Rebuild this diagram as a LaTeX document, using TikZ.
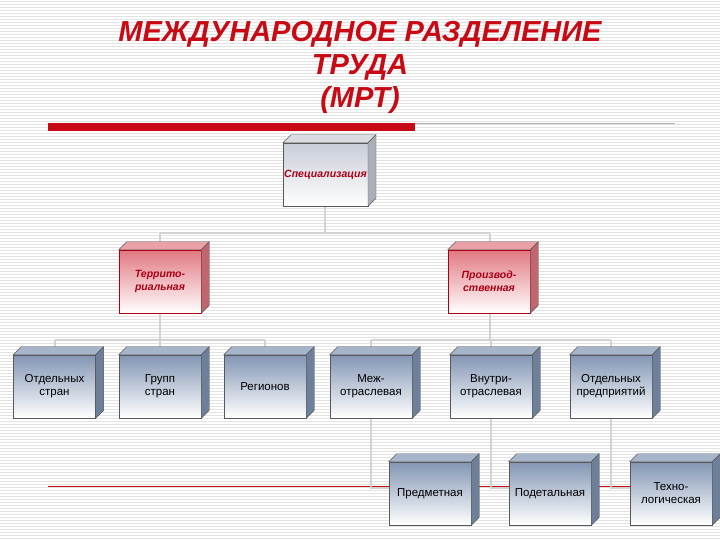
\documentclass[tikz,border=0pt]{standalone}
\usepackage{fontspec}
\setmainfont{Liberation Sans}
\usetikzlibrary{calc}
\definecolor{tred}{RGB}{200,10,20}
\definecolor{dred}{RGB}{170,0,20}
\definecolor{steel}{RGB}{130,150,180}
\definecolor{pale}{RGB}{200,205,215}
\definecolor{pinkr}{RGB}{225,120,130}
\tikzset{
  bx/.style={draw=gray!70!black, line width=0.5pt, minimum width=82pt, minimum height=63pt, inner sep=1pt, align=center, font=\fontsize{11.5}{13}\selectfont, top color=steel, bottom color=white},
  bxtop/.style={bx, top color=pale, bottom color=white, text=dred, font=\fontsize{10.5}{12}\selectfont\bfseries\itshape},
  bxred/.style={bx, draw=dred, top color=pinkr, bottom color=white, text=dred, font=\fontsize{10.5}{13}\selectfont\bfseries\itshape},
  conn/.style={draw=gray!35, line width=1.5pt},
}
\newcommand{\depthfaces}[2]{%
  \filldraw[draw=gray!70!black, line width=0.4pt, fill=#2!70!white] (#1.north west) -- ++(8,-8) -- ($(#1.north east)+(8,-8)$) -- (#1.north east) -- cycle;
  \filldraw[draw=gray!70!black, line width=0.4pt, fill=#2!85!black] (#1.north east) -- ++(8,-8) -- ($(#1.south east)+(8,-8)$) -- (#1.south east) -- cycle;}
\begin{document}
\begin{tikzpicture}[x=1pt,y=-1pt]
\useasboundingbox (0,0) rectangle (720,540);
\fill[white] (0,0) rectangle (720,540);
\foreach \yy in {1,4,...,540} \draw[gray!22, line width=0.8pt] (0,\yy) -- (720,\yy);
% title
\node[text=tred, font=\fontsize{29}{33}\selectfont\bfseries\itshape, align=center] (title) at (360,67) {МЕЖДУНАРОДНОЕ РАЗДЕЛЕНИЕ\\ТРУДА\\(МРТ)};
\fill[tred] (48,123) rectangle (415,131);
\draw[gray!60, line width=0.5pt] (415,123) -- (675,123);
\draw[tred, line width=0.6pt] (48,486) -- (720,486);
% connectors
\draw[conn] (325,206) -- (325,233);
\draw[conn] (160,233) -- (490,233);
\draw[conn] (160,233) -- (160,250);
\draw[conn] (490,233) -- (490,250);
\draw[conn] (160,313) -- (160,340);
\draw[conn] (55,340) -- (265,340);
\foreach \xx in {55,160,265} \draw[conn] (\xx,340) -- (\xx,355);
\draw[conn] (490,313) -- (490,340);
\draw[conn] (371,340) -- (611,340);
\foreach \xx in {371,491,611} \draw[conn] (\xx,340) -- (\xx,355);
\draw[conn] (371,418) -- (371,488) -- (389,488);
\draw[conn] (491,418) -- (491,488) -- (509,488);
\draw[conn] (611,418) -- (611,488) -- (630,488);
% boxes
\node[bxtop] (spec) at (325.5,174.5) {Специализация};
\depthfaces{spec}{pale}
\node[bxred] (terr) at (160,281.5) {Террито-\\риальная};
\depthfaces{terr}{pinkr}
\node[bxred] (proiz) at (489,281.5) {Производ-\\ственная};
\depthfaces{proiz}{pinkr}
\node[bx] (ots) at (54.5,386.5) {Отдельных\\стран};
\node[bx] (grs) at (160,386.5) {Групп\\стран};
\node[bx] (reg) at (265,386.5) {Регионов};
\node[bx] (mezh) at (371,386.5) {Меж-\\отраслевая};
\node[bx] (vnut) at (491,386.5) {Внутри-\\отраслевая};
\node[bx] (otp) at (611,386.5) {Отдельных\\предприятий};
\node[bx] (pred) at (430,493.5) {Предметная};
\node[bx] (pod) at (550,493.5) {Подетальная};
\node[bx] (tech) at (671,493.5) {Техно-\\логическая};
\foreach \n in {ots,grs,reg,mezh,vnut,otp,pred,pod,tech} {\depthfaces{\n}{steel}}
\end{tikzpicture}
\end{document}
